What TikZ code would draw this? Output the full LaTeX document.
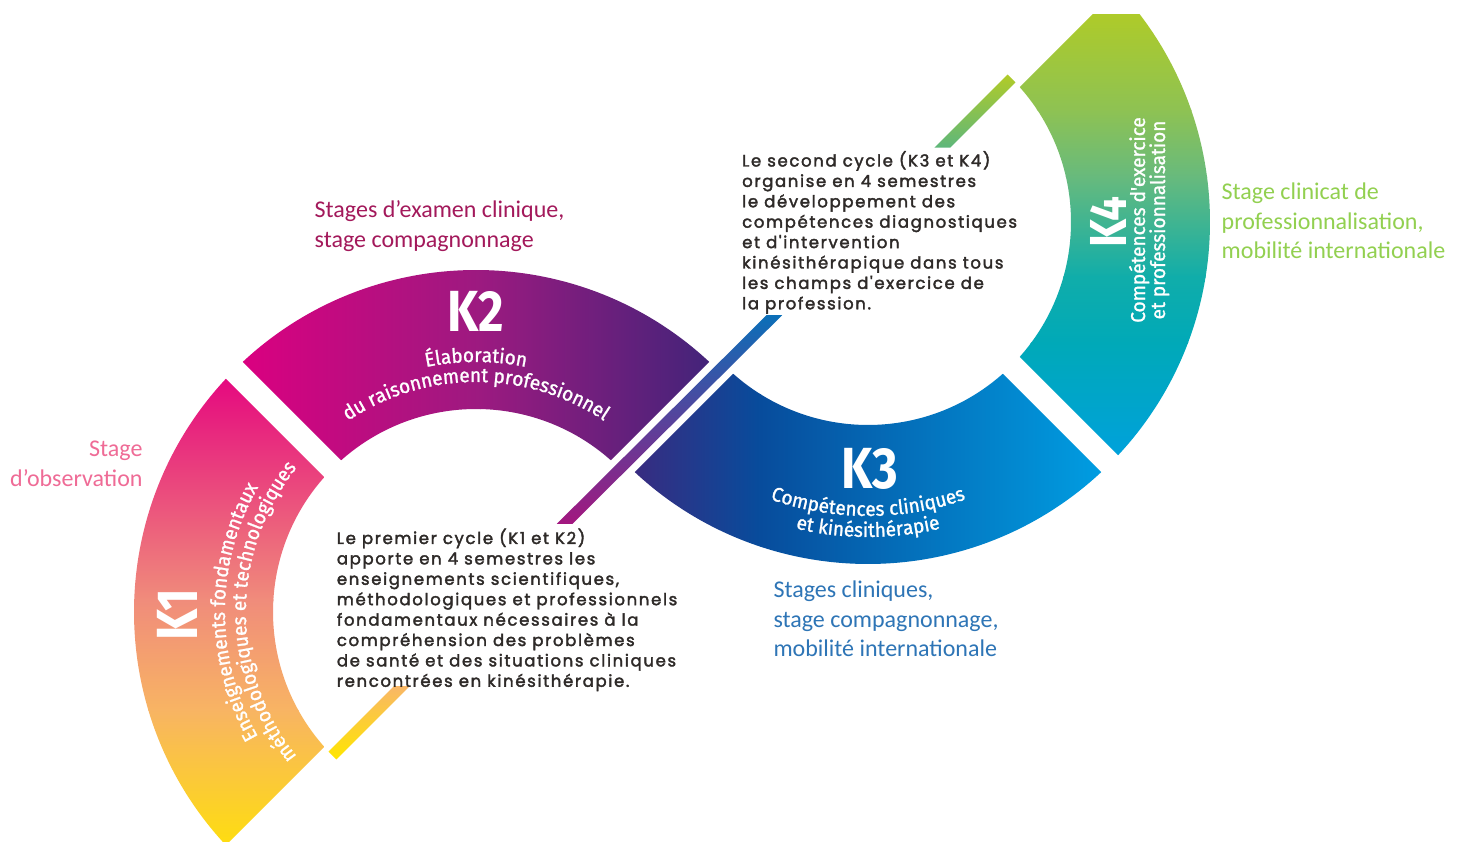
\documentclass[tikz,border=0pt]{standalone}
\usepackage{fontspec}
\setmainfont{Fira Sans}
\newfontfamily\calib{Carlito}
\newfontfamily\gothic{Poppins}[LetterSpace=10,FakeBold=2.2]
\newfontfamily\kfont{Fira Sans}[FakeStretch=0.85]
\newfontfamily\subfamily{Fira Sans}[FakeBold=1.2,FakeStretch=0.95]
\usetikzlibrary{calc,decorations.text}

\definecolor{k1a}{HTML}{E5097F}
\definecolor{k1b}{HTML}{F08C7B}
\definecolor{k1c}{HTML}{F8B463}
\definecolor{k1d}{HTML}{FFE500}
\definecolor{k2a}{HTML}{DB0080}
\definecolor{k2b}{HTML}{9C1A80}
\definecolor{k2c}{HTML}{3F2479}
\definecolor{k3a}{HTML}{3A2A7F}
\definecolor{k3b}{HTML}{074C9C}
\definecolor{k3c}{HTML}{009FE3}
\definecolor{k4a}{HTML}{AFCB28}
\definecolor{k4b}{HTML}{8EC253}
\definecolor{k4c}{HTML}{67BA7D}
\definecolor{k4d}{HTML}{10ADAA}
\definecolor{k4e}{HTML}{00A9B8}
\definecolor{k4f}{HTML}{00A0E0}
\definecolor{m1}{HTML}{A3177F}
\definecolor{m2}{HTML}{3B2A84}
\definecolor{m3}{HTML}{0B6FB8}
\definecolor{y1}{HTML}{F9B767}
\definecolor{y2}{HTML}{FFE600}
\definecolor{g1}{HTML}{5EB77B}
\definecolor{g2}{HTML}{B1CB28}
\definecolor{textgray}{HTML}{2E2A28}
\definecolor{spink}{HTML}{EF6B96}
\definecolor{scrim}{HTML}{A3195B}
\definecolor{sblue}{HTML}{2E75B6}
\definecolor{sgreen}{HTML}{92D050}

\newcommand{\ringpath}[3]{($(#1)+({#2+2.01}:342)$) arc[start angle={#2+2.01}, end angle={#3-2.01}, radius=342] -- ($(#1)+({#3-3.39}:203)$) arc[start angle={#3-3.39}, end angle={#2+3.39}, radius=203] -- cycle}
\newcommand{\subfmt}{\color{white}\subfamily\fontsize{20}{20}\selectfont}

\tikzset{
  klabel/.style={text=white, font=\kfont\bfseries\fontsize{58}{58}\selectfont, inner sep=0pt},
  ksub/.style={text=white, font=\subfamily\fontsize{20}{20}\selectfont, inner sep=0pt, anchor=base},
  cycletext/.style={text=textgray, font=\gothic\fontsize{16.5}{20.4}\selectfont, inner sep=0pt, anchor=base west},
  stagetext/.style={font=\calib\fontsize{24}{29.5}\selectfont, inner sep=0pt},
  curvedtext/.style={decorate, decoration={text along path, text align=center, text={#1}}}
}

\begin{document}
\begin{tikzpicture}[x=1pt,y=1pt]
\useasboundingbox (0,0) rectangle (1462,841);
\fill[white] (0,0) rectangle (1462,841);
\clip (0,0) rectangle (1462,841);
\coordinate (L) at (476,229);
\coordinate (U) at (868,619);

% K1
\begin{scope}
\clip \ringpath{L}{135}{225};
\shade[top color=k1a, bottom color=k1b] (120,240.5) rectangle (480,462);
\shade[top color=k1b, bottom color=k1c] (120,130.5) rectangle (480,241);
\shade[top color=k1c, bottom color=k1d] (120,-30) rectangle (480,131);
\end{scope}
% K2
\begin{scope}
\clip \ringpath{L}{45}{135};
\shade[left color=k2a, right color=k2b] (240,370) rectangle (480.5,580);
\shade[left color=k2b, right color=k2c] (480,370) rectangle (720,580);
\end{scope}
% K3
\begin{scope}
\clip \ringpath{U}{225}{315};
\shade[left color=k3a, right color=k3b] (630,270) rectangle (760.5,475);
\shade[left color=k3b, right color=k3c] (760,270) rectangle (1110,475);
\end{scope}
% K4
\begin{scope}
\clip (0,0) rectangle (1462,826);
\clip \ringpath{U}{-45}{45};
\shade[top color=k4a, bottom color=k4b] (1010,730.5) rectangle (1220,830);
\shade[top color=k4b, bottom color=k4c] (1010,663.5) rectangle (1220,731);
\shade[top color=k4c, bottom color=k4d] (1010,563.5) rectangle (1220,664);
\shade[top color=k4d, bottom color=k4e] (1010,497.5) rectangle (1220,564);
\shade[top color=k4e, bottom color=k4f] (1010,370) rectangle (1220,498);
\end{scope}

% strips
\coordinate (P1) at ($(L)!125pt!(U)$);
\coordinate (P2) at ($(U)!132pt!(L)$);
\shade[bottom color=m1, middle color=m2, top color=m3] ($(P1)+(-7.8,0)$) -- ($(P1)+(7.8,0)$) -- ($(P2)+(7.8,0)$) -- ($(P2)+(-7.8,0)$) -- cycle;
\coordinate (Y1) at ($(L)+(225:105)$);
\coordinate (Y2) at ($(L)+(225:203)$);
\shade[top color=y1, bottom color=y2] ($(Y1)+(-7.8,0)$) -- ($(Y1)+(7.8,0)$) -- ($(Y2)+(-45:5.5)$) -- ($(Y2)+(135:5.5)$) -- cycle;
\coordinate (G1) at ($(U)+(45:105)$);
\coordinate (G2) at ($(U)+(45:203)$);
\shade[bottom color=g1, top color=g2] ($(G1)+(-7.8,0)$) -- ($(G1)+(7.8,0)$) -- ($(G2)+(-45:5.5)$) -- ($(G2)+(135:5.5)$) -- cycle;

% K labels
\node[klabel, rotate=90] (k1) at (177,226) {K1};
\node[klabel] (k2) at (476,530) {K2};
\node[klabel] (k3) at (870,372) {K3};
\node[klabel, font=\kfont\bfseries\fontsize{52}{52}\selectfont, rotate=90] (k4) at (1108,619) {K4};

% curved subtitles
\path[curvedtext={|\subfmt|Enseignements fondamentaux}] ($(L)+(240:251)$) arc[start angle=240, end angle=120, radius=251];
\path[curvedtext={|\subfmt|méthodologiques et technologiques}] ($(L)+(240:230)$) arc[start angle=240, end angle=120, radius=230];
\path[curvedtext={|\subfmt|Élaboration}] ($(L)+(140:250)$) arc[start angle=140, end angle=40, radius=250];
\path[curvedtext={|\subfmt|du raisonnement professionnel}] ($(L)+(140:230)$) arc[start angle=140, end angle=40, radius=230];
\path[curvedtext={|\subfmt|Compétences cliniques}] ($(U)+(225:294)$) arc[start angle=225, end angle=315, radius=294];
\path[curvedtext={|\subfmt|et kinésithérapie}] ($(U)+(225:315)$) arc[start angle=225, end angle=315, radius=315];
\node[ksub, rotate=90] (k4a) at (1145,621) {Compétences d'exercice};
\node[ksub, rotate=90] (k4b) at (1165,621) {et professionnalisation};

% cycle texts
\node[cycletext] (c1) at (336.7,297) {\begin{tabular}[t]{@{}l@{}}Le premier cycle (K1 et K2)\\apporte en 4 semestres les\\enseignements scientifiques,\\méthodologiques et professionnels\\fondamentaux nécessaires à la\\compréhension des problèmes\\de santé et des situations cliniques\\rencontrées en kinésithérapie.\end{tabular}};
\node[cycletext] (c2) at (742,674.5) {\begin{tabular}[t]{@{}l@{}}Le second cycle (K3 et K4)\\organise en 4 semestres\\le développement des\\compétences diagnostiques\\et d'intervention\\kinésithérapique dans tous\\les champs d'exercice de\\la profession.\end{tabular}};

% stage labels
\node[stagetext, text=spink, anchor=base east] (s1) at (142.7,384) {\begin{tabular}[t]{@{}r@{}}Stage\\d’observation\end{tabular}};
\node[stagetext, text=scrim, anchor=base west] (s2) at (314.5,623) {\begin{tabular}[t]{@{}l@{}}Stages d’examen clinique,\\stage compagnonnage\end{tabular}};
\node[stagetext, text=sblue, anchor=base west] (s3) at (773.3,243) {\begin{tabular}[t]{@{}l@{}}Stages cliniques,\\stage compagnonnage,\\mobilité internationale\end{tabular}};
\node[stagetext, text=sgreen, anchor=base west] (s4) at (1221.5,641) {\begin{tabular}[t]{@{}l@{}}Stage clinicat de\\professionnalisation,\\mobilité internationale\end{tabular}};
\end{tikzpicture}
\end{document}
